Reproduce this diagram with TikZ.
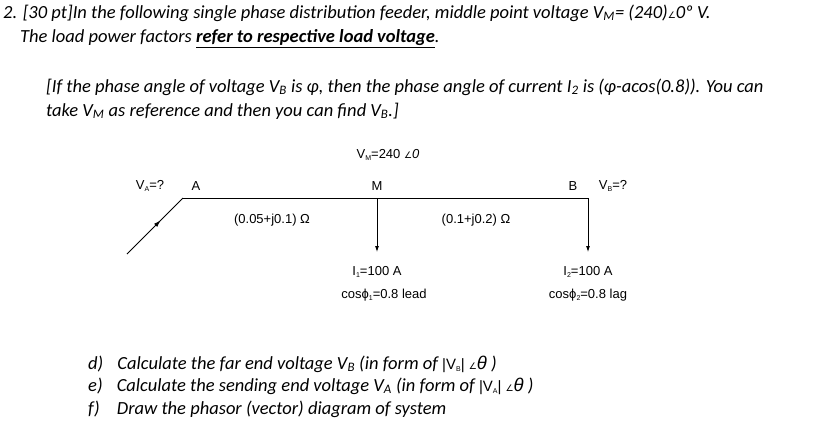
\documentclass[tikz,border=0pt]{standalone}
\usepackage{fontspec}
\setmainfont{Carlito}
\newfontfamily\arial{Liberation Sans}
\newfontfamily\dvs{DejaVu Sans}
\usetikzlibrary{decorations.markings,arrows.meta}
\tikzset{q/.style={anchor=west,inner sep=0,font=\fontsize{18.5}{21}\selectfont\itshape},
 lab/.style={inner sep=0,font=\arial\fontsize{13}{15}\selectfont},
 wire/.style={line width=0.8pt},
 drop/.style={wire,-{Latex[length=6pt,width=4pt]}}}
\newcommand{\ang}{{\dvs\upshape\small∠}}
\newcommand{\sbs}[1]{\raisebox{-0.35ex}{\scriptsize #1}}
\begin{document}
\begin{tikzpicture}[x=1pt,y=-1pt]
\useasboundingbox (0,0) rectangle (826,445);
\node[q] (t1) at (3,13) {2. [30 pt]In the following single phase distribution feeder, middle point voltage V\textsubscript{M}= (240)\ang0º V.};
\node[q] (t2) at (20,39) {The load power factors \textbf{\underline{refer to respective load voltage}}.};
\node[q] (t3) at (46,87) {[If the phase angle of voltage V\textsubscript{B} is φ, then the phase angle of current I\textsubscript{2} is (φ-acos(0.8)). You can};
\node[q] (t4) at (46,111) {take V\textsubscript{M} as reference and then you can find V\textsubscript{B}.]};
\coordinate (S) at (127,254);
\coordinate (A) at (183,198);
\coordinate (M) at (377,198);
\coordinate (B) at (588,198);
\node[lab] (m1) at (388,155) {V\sbs{M}=240 \ang\textit{0}};
\node[lab] (la) at (150,186) {V\sbs{A}=?};
\node[lab] (na) at (196,186) {A};
\node[lab] (nm) at (377,186) {M};
\node[lab] (nb) at (573,186) {B};
\node[lab] (lb) at (613,186) {V\sbs{B}=?};
\node[lab] (z1) at (272,220) {(0.05+j0.1) Ω};
\node[lab] (z2) at (476,220) {(0.1+j0.2) Ω};
\coordinate (M2) at (377,252);
\coordinate (B2) at (588,252);
\node[lab] (i1) at (377,272) {I\sbs{1}=100 A};
\node[lab] (p1) at (384,295) {cosϕ\sbs{1}=0.8 lead};
\node[lab] (i2) at (588,272) {I\sbs{2}=100 A};
\node[lab] (p2) at (588,295) {cosϕ\sbs{2}=0.8 lag};
\draw[wire,postaction={decorate},decoration={markings,mark=at position 0.6 with {\arrow{Latex[length=7pt,width=4.5pt]}}}] (S) -- (A);
\draw[wire] (A) -- (B);
\draw[drop] (M) -- (M2);
\draw[drop] (B) -- (B2);
\node[q] (d) at (88,364) {d)\hspace{10pt} Calculate the far end voltage V\textsubscript{B} (in form of {\arial\upshape\fontsize{15}{17}\selectfont |V\sbs{B}|} \ang{\arial\textit{θ}} )};
\node[q] (e) at (88,386) {e)\hspace{10pt} Calculate the sending end voltage V\textsubscript{A} (in form of {\arial\upshape\fontsize{15}{17}\selectfont |V\sbs{A}|} \ang{\arial\textit{θ}} )};
\node[q] (f) at (88,409) {f)\hspace{13pt} Draw the phasor (vector) diagram of system};
\end{tikzpicture}
\end{document}
